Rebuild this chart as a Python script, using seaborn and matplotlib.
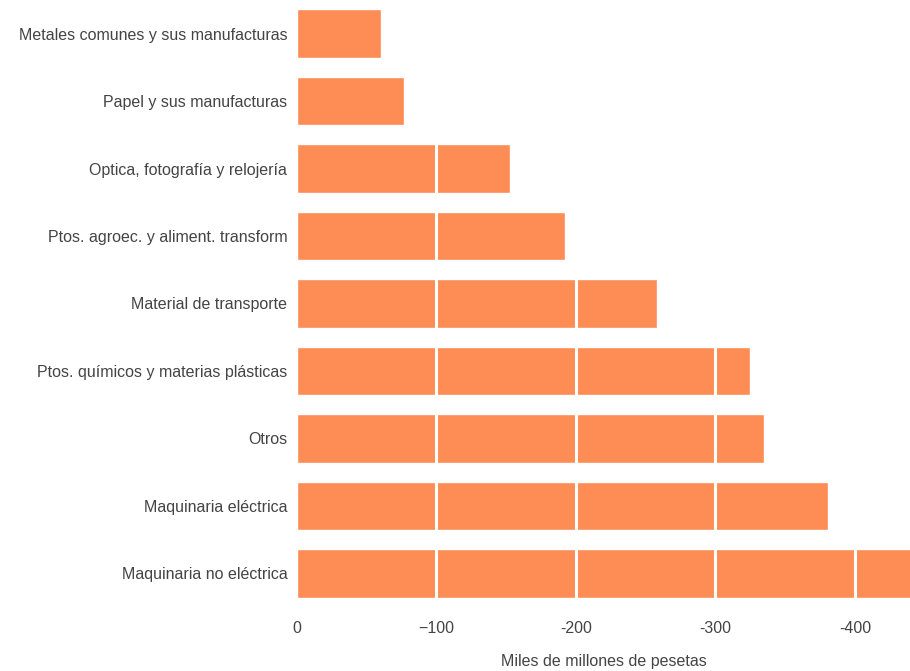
import matplotlib
matplotlib.use("Agg")
import matplotlib.pyplot as plt
import seaborn as sns
import pandas as pd

categories = [
    "Metales comunes y sus manufacturas",
    "Papel y sus manufacturas",
    "Optica, fotografía y relojería",
    "Ptos. agroec. y aliment. transform",
    "Material de transporte",
    "Ptos. químicos y materias plásticas",
    "Otros",
    "Maquinaria eléctrica",
    "Maquinaria no eléctrica",
]
values = [-60, -77, -153, -192, -258, -325, -335, -381, -445]
tick_values = [0, -100, -200, -300, -400]
tick_labels = ["0", "\u2212100", "-200", "-300", "-400"]

sns.set_theme(style="white")
plt.rcParams["font.family"] = ["Liberation Sans", "DejaVu Sans"]

df = pd.DataFrame({"cat": categories, "val": values})

fig = plt.figure(figsize=(9.1, 6.71), dpi=100)
ax = fig.add_axes([0.3264, 0.0954, 0.6736, 0.9046])

sns.barplot(data=df, x="val", y="cat", orient="h", color="#FD8C55",
            saturation=1, width=0.72, ax=ax, zorder=1)

ax.set_xlim(0, -439.5)
ax.set_ylim(8.5, -0.5)
for v in tick_values[1:]:
    ax.axvline(v, color="white", lw=2.2, zorder=3)

ax.set_xticks(tick_values)
ax.set_xticklabels(tick_labels)
ax.tick_params(axis="x", length=0, pad=10, labelsize=11.5, labelcolor="#444444")
ax.tick_params(axis="y", length=0, pad=7, labelsize=11.5, labelcolor="#444444")
ax.set_ylabel("")
ax.set_xlabel("Miles de millones de pesetas", fontsize=11.5, color="#444444", labelpad=13)
for s in ax.spines.values():
    s.set_visible(False)
ax.grid(False)

fig.savefig("out.png", dpi=100)
